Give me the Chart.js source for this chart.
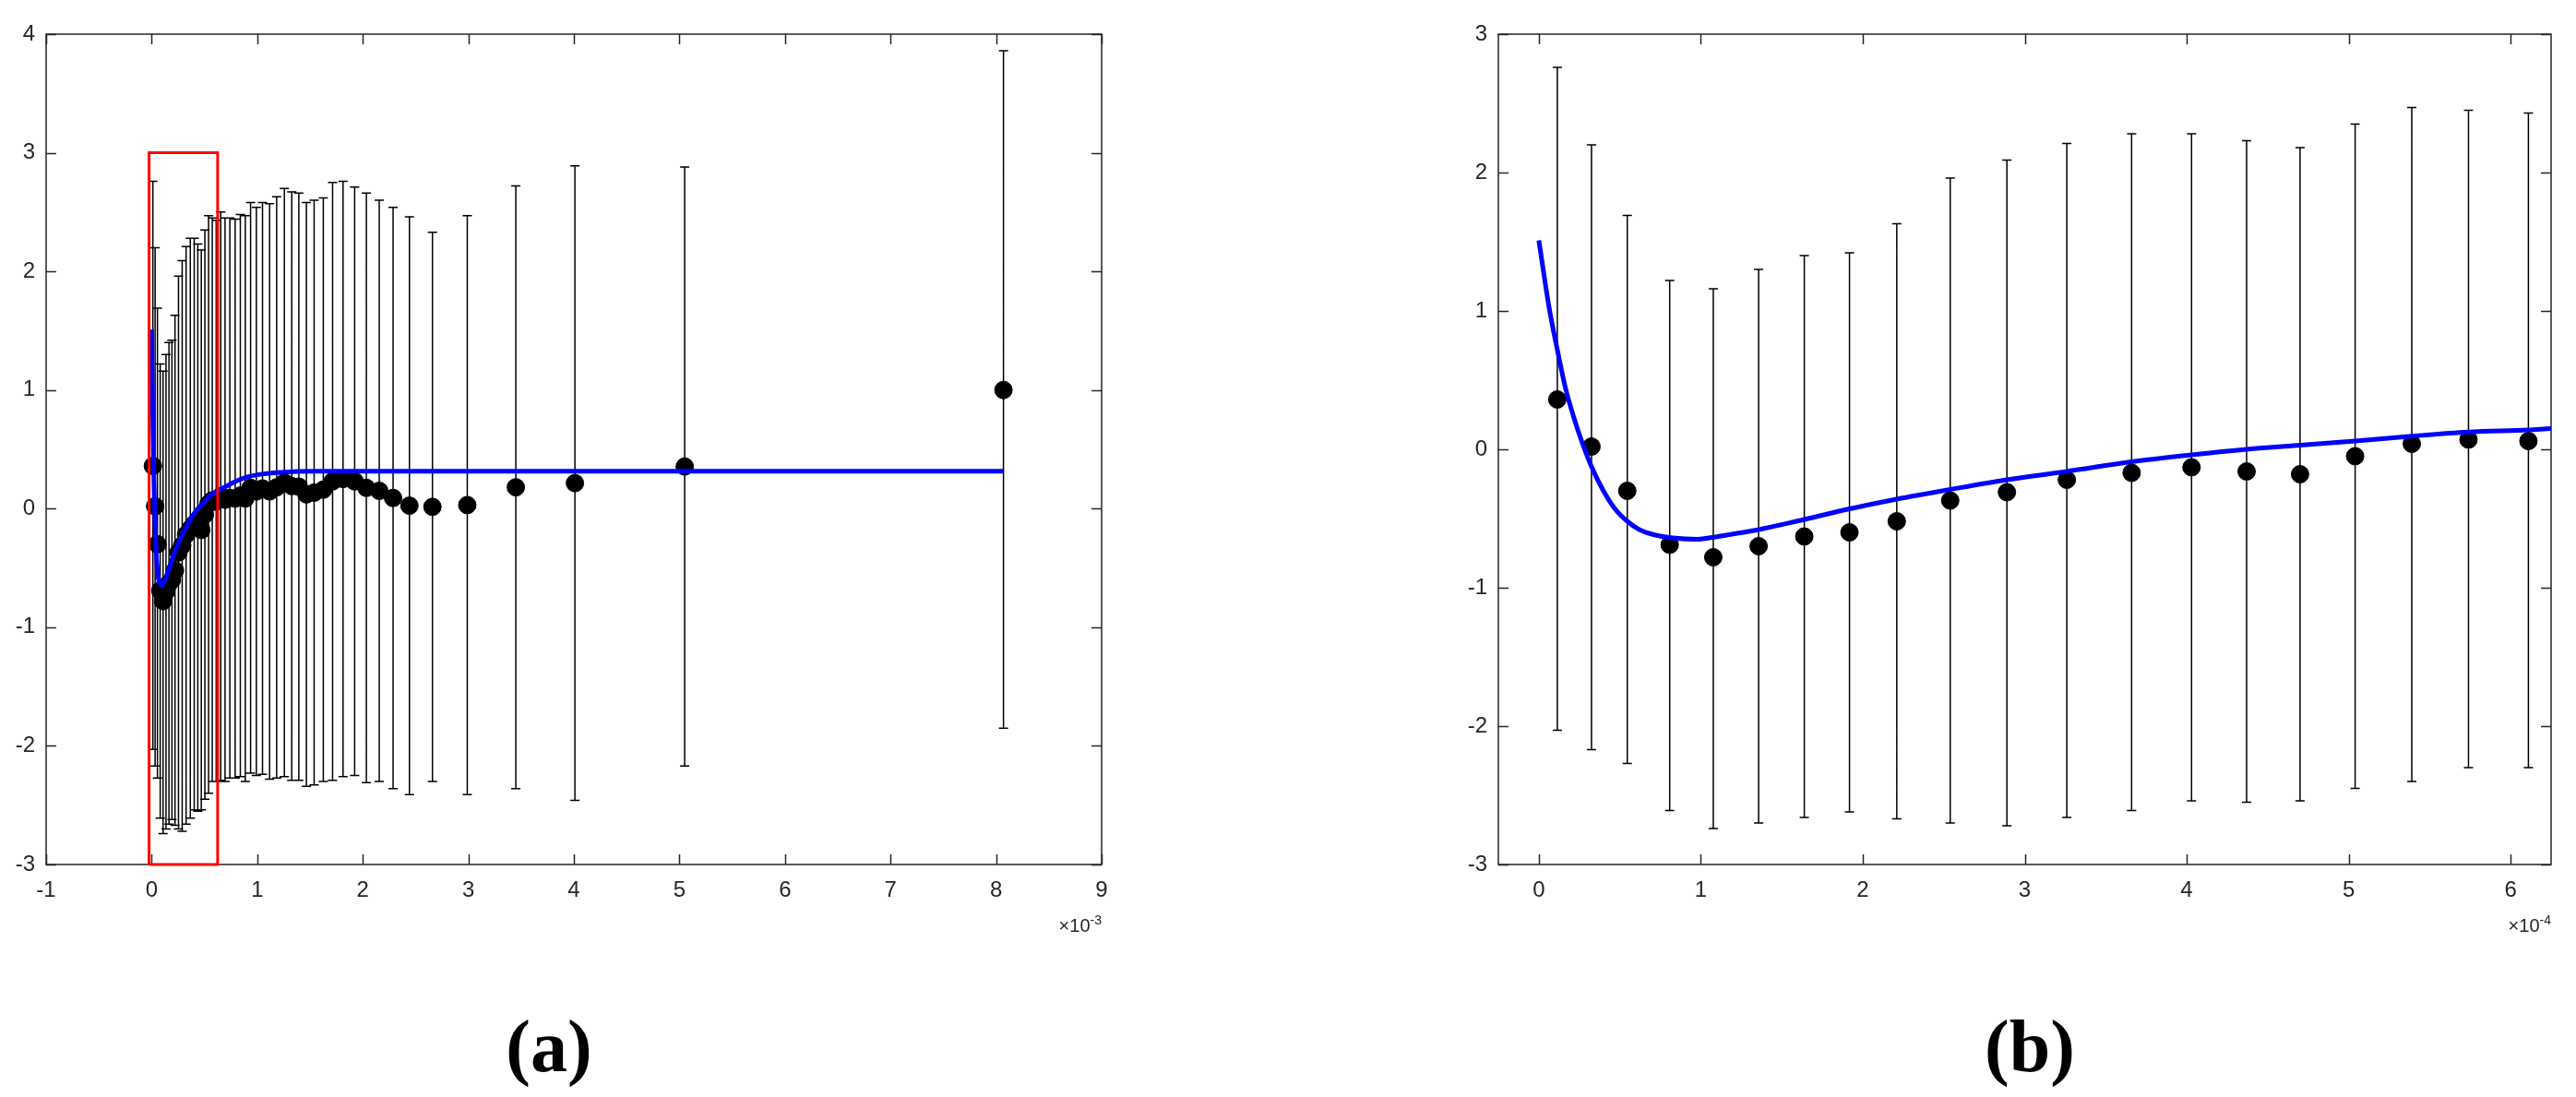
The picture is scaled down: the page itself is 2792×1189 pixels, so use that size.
<!DOCTYPE html>
<html>
<head>
<meta charset="utf-8">
<title>Fit with error bars</title>
<script src="https://cdn.jsdelivr.net/npm/chart.js@4.4.1/dist/chart.umd.min.js"></script>
<style>
  html, body { margin: 0; padding: 0; background: #fff; }
  #page { position: relative; width: 2792px; height: 1189px; overflow: hidden; background: #fff; }
  canvas { position: absolute; top: 0; }
  .exp { position: absolute; font-family: "Liberation Sans", Arial, sans-serif; font-size: 20px; color: #262626; line-height: 1; }
  .exp sup { font-size: 14px; }
  .panel-label { position: absolute; font-family: "Liberation Serif", "Times New Roman", serif; font-weight: bold; font-size: 80px; line-height: 1; color: #000; transform: translateX(-50%); }
</style>
</head>
<body>
<div id="page">
  <canvas id="chartA" width="1400" height="1189" style="left:0"></canvas>
  <canvas id="chartB" width="1392" height="1189" style="left:1400px"></canvas>
  <div class="exp" style="right:1598px; top:990px">&times;10<sup>-3</sup></div>
  <div class="exp" style="right:27px; top:990px">&times;10<sup>-4</sup></div>
  <div class="panel-label" style="left:595px; top:1094px">(a)</div>
  <div class="panel-label" style="left:2200px; top:1094px">(b)</div>
</div>
<script>
// measured points, time in units of 1e-3
const times = [0.0114, 0.0325, 0.0546, 0.0808, 0.1077, 0.1357, 0.1639, 0.1918, 0.221, 0.254,
  0.289, 0.326, 0.366, 0.403, 0.437, 0.470, 0.504, 0.539, 0.574, 0.611,
  0.654, 0.695, 0.741, 0.791, 0.840, 0.887, 0.937, 0.992, 1.050, 1.117,
  1.184, 1.257, 1.327, 1.394, 1.466, 1.539, 1.626, 1.714, 1.813, 1.923,
  2.034, 2.156, 2.287, 2.442, 2.66, 2.99, 3.45, 4.01, 5.05, 8.07];
const values = [0.36, 0.02, -0.30, -0.69, -0.78, -0.70, -0.63, -0.60, -0.52, -0.37,
  -0.31, -0.22, -0.17, -0.13, -0.16, -0.18, -0.05, 0.04, 0.07, 0.06,
  0.105, 0.075, 0.09, 0.085, 0.11, 0.085, 0.175, 0.145, 0.17, 0.145,
  0.18, 0.22, 0.19, 0.185, 0.12, 0.135, 0.16, 0.23, 0.25, 0.23,
  0.175, 0.15, 0.09, 0.025, 0.015, 0.03, 0.18, 0.215, 0.355, 1.0];
const upper = [2.76, 2.20, 1.69, 1.22, 1.16, 1.30, 1.40, 1.42, 1.63, 1.96,
  2.09, 2.21, 2.28, 2.28, 2.23, 2.18, 2.35, 2.47, 2.45, 2.43,
  2.50, 2.45, 2.45, 2.44, 2.48, 2.47, 2.58, 2.54, 2.58, 2.57,
  2.63, 2.70, 2.67, 2.66, 2.58, 2.60, 2.62, 2.75, 2.76, 2.71,
  2.66, 2.60, 2.54, 2.46, 2.33, 2.47, 2.72, 2.89, 2.88, 3.86];
const lower = [-2.03, -2.17, -2.27, -2.61, -2.74, -2.70, -2.66, -2.62, -2.67, -2.70,
  -2.72, -2.66, -2.61, -2.54, -2.55, -2.54, -2.45, -2.40, -2.30, -2.30,
  -2.29, -2.30, -2.27, -2.27, -2.26, -2.30, -2.23, -2.25, -2.24, -2.28,
  -2.27, -2.26, -2.29, -2.29, -2.34, -2.33, -2.30, -2.29, -2.26, -2.25,
  -2.31, -2.30, -2.36, -2.41, -2.30, -2.41, -2.36, -2.46, -2.17, -1.85];

// fitted model curve
const fitTimes = [0, 0.0064, 0.0114, 0.0165, 0.0216, 0.0267, 0.0325, 0.0394, 0.047, 0.0546,
  0.062, 0.072, 0.0826, 0.098, 0.108, 0.121, 0.1357, 0.159, 0.192, 0.221,
  0.254, 0.289, 0.326, 0.366, 0.403, 0.437, 0.470, 0.504, 0.539, 0.574,
  0.611, 0.625, 0.70, 0.81, 0.90, 1.0, 1.22, 1.54, 8.07];
const fitValues = [1.51, 1.02, 0.72, 0.44, 0.23, 0.05, -0.125, -0.29, -0.43, -0.52,
  -0.58, -0.62, -0.64, -0.65, -0.635, -0.61, -0.58, -0.52, -0.43, -0.36,
  -0.29, -0.22, -0.16, -0.09, -0.04, 0.00, 0.03, 0.06, 0.095, 0.125,
  0.14, 0.15, 0.185, 0.235, 0.265, 0.285, 0.305, 0.315, 0.315];

// red zoom window in panel (a) = axes range of panel (b)
const zoomTimes = [-0.025, 0.625];
const zoomValues = [-3, 3];

const xTicksA = [-1, 0, 1, 2, 3, 4, 5, 6, 7, 8, 9];
const yTicksA = [-3, -2, -1, 0, 1, 2, 3, 4];
const xTicksB = [0, 1, 2, 3, 4, 5, 6];
const yTicksB = [-3, -2, -1, 0, 1, 2, 3];
const xRangeA = [-1, 9];
const yRangeA = [-3, 4];
const xRangeB = [-0.25, 6.25];
const yRangeB = [-3, 3];
const factorB = 10; // panel (b) axis is in units of 1e-4

const axisColor = '#262626';
const tickFont = { family: '"Liberation Sans", Arial, sans-serif', size: 24 };

// box + inward ticks, then error bars, all through the chart scales
const matlabAxes = {
    id: 'matlabAxes',
    beforeDatasetsDraw(chart) {
        const { ctx, chartArea: a, scales: { x, y } } = chart;
        const tl = 11;
        ctx.save();
        ctx.strokeStyle = axisColor;
        ctx.lineWidth = 1.5;
        ctx.strokeRect(a.left, a.top, a.right - a.left, a.bottom - a.top);
        ctx.beginPath();
        x.ticks.forEach(t => {
            const px = Math.round(x.getPixelForValue(t.value)) + 0.5;
            ctx.moveTo(px, a.bottom); ctx.lineTo(px, a.bottom - tl);
            ctx.moveTo(px, a.top); ctx.lineTo(px, a.top + tl);
        });
        y.ticks.forEach(t => {
            const py = Math.round(y.getPixelForValue(t.value)) + 0.5;
            ctx.moveTo(a.left, py); ctx.lineTo(a.left + tl, py);
            ctx.moveTo(a.right, py); ctx.lineTo(a.right - tl, py);
        });
        ctx.stroke();

        ctx.strokeStyle = '#000';
        ctx.lineWidth = 1.5;
        const cap = 5;
        chart.data.datasets.forEach(ds => {
            if (!ds.errLow) return;
            ctx.beginPath();
            ds.data.forEach((p, i) => {
                const px = x.getPixelForValue(p.x);
                const top = y.getPixelForValue(ds.errHigh[i]);
                const bot = y.getPixelForValue(ds.errLow[i]);
                ctx.moveTo(px, top); ctx.lineTo(px, bot);
                ctx.moveTo(px - cap, top); ctx.lineTo(px + cap, top);
                ctx.moveTo(px - cap, bot); ctx.lineTo(px + cap, bot);
            });
            ctx.stroke();
        });
        ctx.restore();
    }
};

function buildPanel(canvasId, f, keep, xRange, yRange, xTicks, yTicks, pad, yAxisWidth, withZoomBox) {
    const idx = times.map((t, i) => i).filter(i => keep(times[i]));
    const points = idx.map(i => ({ x: times[i] * f, y: values[i] }));
    const fit = fitTimes.map((t, i) => ({ x: t * f, y: fitValues[i] }));

    const datasets = [];
    if (withZoomBox) {
        datasets.push({
            data: [
                { x: zoomTimes[0], y: zoomValues[0] },
                { x: zoomTimes[0], y: zoomValues[1] },
                { x: zoomTimes[1], y: zoomValues[1] },
                { x: zoomTimes[1], y: zoomValues[0] },
                { x: zoomTimes[0], y: zoomValues[0] }
            ],
            showLine: true,
            borderColor: '#ff0000',
            borderWidth: 3,
            pointRadius: 0,
            tension: 0,
            clip: false,
            order: 0
        });
    }
    datasets.push({
        data: fit,
        showLine: true,
        borderColor: '#0000ff',
        borderWidth: 5,
        pointRadius: 0,
        cubicInterpolationMode: 'monotone',
        order: 1
    });
    datasets.push({
        data: points,
        errLow: idx.map(i => lower[i]),
        errHigh: idx.map(i => upper[i]),
        backgroundColor: '#000',
        borderColor: '#000',
        borderWidth: 1,
        pointRadius: 9.5,
        order: 2
    });

    return new Chart(document.getElementById(canvasId), {
        type: 'scatter',
        data: { datasets: datasets },
        options: {
            responsive: false,
            animation: false,
            devicePixelRatio: 1,
            layout: { padding: pad },
            plugins: { legend: { display: false }, tooltip: { enabled: false } },
            scales: {
                x: {
                    type: 'linear',
                    min: xRange[0],
                    max: xRange[1],
                    grid: { display: false, drawTicks: false },
                    border: { display: false },
                    afterBuildTicks: s => { s.ticks = xTicks.map(v => ({ value: v })); },
                    afterFit: s => { s.height = 60; },
                    ticks: { font: tickFont, color: axisColor, padding: 14, maxRotation: 0, autoSkip: false, callback: v => String(v) }
                },
                y: {
                    type: 'linear',
                    min: yRange[0],
                    max: yRange[1],
                    grid: { display: false, drawTicks: false },
                    border: { display: false },
                    afterBuildTicks: s => { s.ticks = yTicks.map(v => ({ value: v })); },
                    afterFit: s => { s.width = yAxisWidth; },
                    ticks: { font: tickFont, color: axisColor, padding: 12, autoSkip: false, callback: v => String(v) }
                }
            }
        },
        plugins: [matlabAxes]
    });
}

document.addEventListener('DOMContentLoaded', function() {
    // chart area (a): x 50..1194, y 37..937
    buildPanel('chartA', 1, t => true, xRangeA, yRangeA, xTicksA, yTicksA,
        { left: 0, top: 37, right: 1400 - 1194, bottom: 1189 - 937 - 60 }, 50, true);
    // chart area (b): x 1624..2765 on the page
    buildPanel('chartB', factorB, t => t <= zoomTimes[1], xRangeB, yRangeB, xTicksB, yTicksB,
        { left: 224 - 60, top: 37, right: 1392 - 1365, bottom: 1189 - 937 - 60 }, 60, false);
});
</script>
</body>
</html>
